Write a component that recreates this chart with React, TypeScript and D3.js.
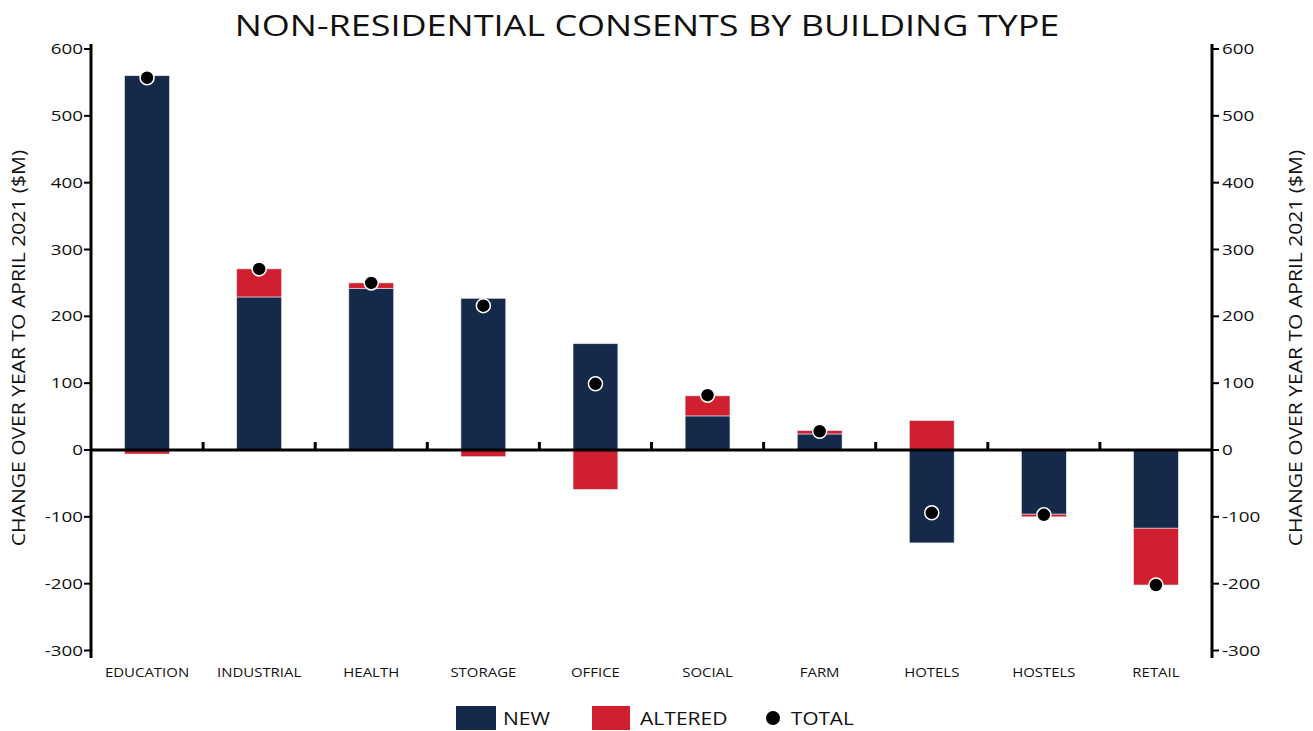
import React from 'react';
import * as d3 from 'd3';

const categories = ['EDUCATION', 'INDUSTRIAL', 'HEALTH', 'STORAGE', 'OFFICE', 'SOCIAL', 'FARM', 'HOTELS', 'HOSTELS', 'RETAIL'];
const newValues = [560, 229, 242, 227, 159, 51, 24, -139, -96, -117];
const alteredValues = [-6, 42, 8, -10, -59, 30, 5, 44, -4, -85];
const totalValues = [557, 271, 250, 216, 99, 82, 28, -94, -97, -202];
const yTicks = [-300, -200, -100, 0, 100, 200, 300, 400, 500, 600];

const NAVY = '#15294b';
const RED = '#d0202f';
const FONT = "'Open Sans', sans-serif";

// wide geometric look: stretch Open Sans horizontally around its anchor
function WideText(props: { x: number; y: number; sx: number; size: number; anchor?: string; rotate?: number; children: any; fill?: string }) {
  const { x, y, sx, size, anchor = 'start', rotate = 0, children, fill = '#111' } = props;
  return (
    <g transform={`translate(${x},${y}) rotate(${rotate}) scale(${sx},1)`}>
      <text textAnchor={anchor} fontSize={size} fill={fill}>{children}</text>
    </g>
  );
}

export default function App() {
  const width = 1313;
  const height = 731;
  const left = 91;
  const right = 1212;

  const x = d3.scaleBand<string>().domain(categories).range([left, right]).paddingInner(0.6).paddingOuter(0.3);
  const y = d3.scaleLinear().domain([-300, 600]).range([650.5, 49]);

  const rows = categories.map((c, i) => ({ cat: c, NEW: newValues[i], ALTERED: alteredValues[i] }));
  const series = d3.stack<any>().keys(['NEW', 'ALTERED']).offset(d3.stackOffsetDiverging)(rows);
  const colors: Record<string, string> = { NEW: NAVY, ALTERED: RED };

  const step = x.step();
  const bw = x.bandwidth();

  return (
    <svg width={width} height={height} style={{ position: 'absolute', left: 0, top: 0 }} fontFamily={FONT}>
      <WideText x={647} y={36} sx={1.2} size={30} anchor="middle">NON-RESIDENTIAL CONSENTS BY BUILDING TYPE</WideText>

      {series.map(s => (
        <g key={s.key} fill={colors[s.key]}>
          {s.map((d, i) => (
            <rect key={i} x={x(categories[i])} width={bw}
              y={y(Math.max(d[0], d[1]))} height={Math.abs(y(d[0]) - y(d[1]))}
              stroke="#e6e6ee" strokeWidth={0.6} />
          ))}
        </g>
      ))}

      {/* zero line with band separators */}
      <line x1={left} x2={right} y1={y(0)} y2={y(0)} stroke="#000" strokeWidth={3} />
      {categories.slice(1).map(c => {
        const bx = (x(c) as number) - step * 0.3;
        return <line key={c} x1={bx} x2={bx} y1={y(0)} y2={y(0) - 8} stroke="#000" strokeWidth={3} />;
      })}

      {/* left axis */}
      <line x1={left} x2={left} y1={44} y2={658} stroke="#000" strokeWidth={3} />
      {yTicks.map(t => (
        <g key={'l' + t}>
          <line x1={left - 7} x2={left} y1={y(t)} y2={y(t)} stroke="#000" strokeWidth={2} />
          <WideText x={left - 8} y={y(t) + 5} sx={1.3} size={14.5} anchor="end">{t}</WideText>
        </g>
      ))}
      {/* right axis */}
      <line x1={right} x2={right} y1={44} y2={658} stroke="#000" strokeWidth={3} />
      {yTicks.map(t => (
        <g key={'r' + t}>
          <line x1={right} x2={right + 7} y1={y(t)} y2={y(t)} stroke="#000" strokeWidth={2} />
          <WideText x={right + 10} y={y(t) + 5} sx={1.3} size={14.5} anchor="start">{t}</WideText>
        </g>
      ))}

      <WideText x={25} y={348} rotate={-90} sx={1.17} size={18} anchor="middle">CHANGE OVER YEAR TO APRIL 2021 ($M)</WideText>
      <WideText x={1302} y={348} rotate={-90} sx={1.17} size={18} anchor="middle">CHANGE OVER YEAR TO APRIL 2021 ($M)</WideText>

      {categories.map(c => (
        <WideText key={c} x={(x(c) as number) + bw / 2} y={677} sx={1.15} size={13} anchor="middle">{c}</WideText>
      ))}

      {totalValues.map((v, i) => (
        <circle key={i} cx={(x(categories[i]) as number) + bw / 2} cy={y(v)} r={7} fill="#000" stroke="#fff" strokeWidth={1.5} />
      ))}

      {/* legend */}
      <rect x={456} y={706} width={40} height={24} fill={NAVY} />
      <WideText x={503} y={725} sx={1.17} size={18}>NEW</WideText>
      <rect x={592} y={706} width={38} height={24} fill={RED} />
      <WideText x={640} y={725} sx={1.17} size={18}>ALTERED</WideText>
      <circle cx={773} cy={718} r={7} fill="#000" />
      <WideText x={791} y={725} sx={1.15} size={18}>TOTAL</WideText>

      <WideText x={-16} y={741} sx={1.15} size={14} fill="#555">Source: Statistics NZ, NZIER</WideText>
    </svg>
  );
}
